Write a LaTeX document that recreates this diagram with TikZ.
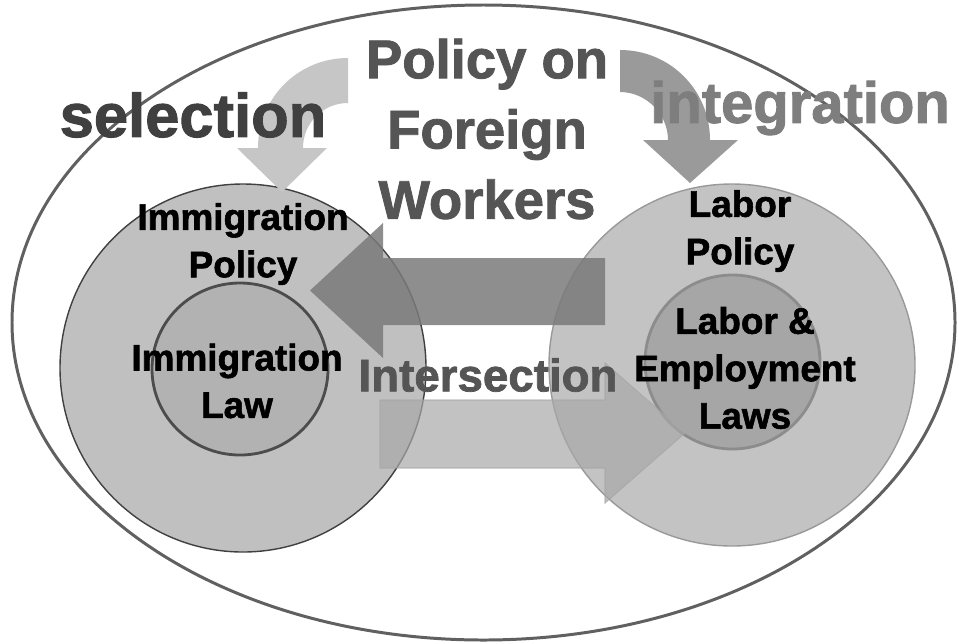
\documentclass[tikz,border=0pt]{standalone}
\usepackage{fontspec}
\newfontfamily\arialfont{Liberation Sans}[BoldFeatures={FakeBold=1.6}]
\usepackage{tikz}

\definecolor{framegray}{HTML}{606060}
\definecolor{fieldgray}{HTML}{C0C0C0}
\definecolor{lawgrayL}{HTML}{B2B2B2}
\definecolor{lawgrayR}{HTML}{A6A6A6}
\definecolor{flowdark}{HTML}{7A7A7A}
\definecolor{flowlight}{HTML}{A8A8A8}
\definecolor{bendlight}{HTML}{C6C6C6}
\definecolor{benddark}{HTML}{9A9A9A}
\definecolor{titledark}{HTML}{555555}
\definecolor{seldark}{HTML}{404040}
\definecolor{intgray}{HTML}{7E7E7E}

\tikzset{
  title/.style={align=center, inner sep=0pt},
  fieldlabel/.style={align=center, inner sep=0pt, text=black,
    font={\arialfont\bfseries\fontsize{21}{27}\selectfont}},
  bigfont/.style={font={\arialfont\bfseries\fontsize{#1}{40}\selectfont}}
}

\begin{document}
\begin{tikzpicture}[x=0.02cm, y=-0.02cm]
  \useasboundingbox (0,0) rectangle (959,643);

  % outer frame
  \draw[framegray, line width=1.7pt] (483.5,322.5) ellipse [x radius=471.5, y radius=317.5];

  % policy fields and laws
  \draw[fill=fieldgray, draw=black!75, line width=0.8pt] (243,368) ellipse [x radius=183, y radius=184];
  \draw[fill=fieldgray!95!white, draw=black!40, line width=0.8pt] (732,365) ellipse [x radius=183, y radius=181];
  \draw[fill=lawgrayL, draw=black!70, line width=1.6pt] (240,369) ellipse [x radius=88, y radius=86];
  \draw[fill=lawgrayR, draw=black!45, line width=1.6pt] (732.5,362) ellipse [x radius=87.5, y radius=87];

  % exchange arrows
  \fill[flowdark, opacity=0.85] (605,258) -- (383,258) -- (383,223) -- (310,290.5)
    -- (383,358) -- (383,325) -- (605,325) -- cycle;
  \filldraw[fill=flowlight, draw=black!35, line width=0.6pt, fill opacity=0.7, draw opacity=0.7]
    (380,400) -- (605,400) -- (605,363) -- (685,433) -- (605,503) -- (605,468) -- (380,468) -- cycle;

  % bent arrows from the top
  \fill[bendlight] (348,58) -- (348,103) .. controls (323,103) and (303,123) .. (303,148)
    -- (327,148) -- (282,192) -- (237,148) -- (258,148)
    .. controls (258,98) and (298,58) .. (348,58) -- cycle;
  \fill[benddark] (620,50) -- (620,92) .. controls (646,92) and (668,114) .. (668,140)
    -- (643,140) -- (690,183) -- (738,140) -- (710,140)
    .. controls (710,90) and (670,50) .. (620,50) -- cycle;

  % headings
  \node[title, bigfont=31, text=titledark] (policy) at (487,129) {Policy on\\Foreign\\Workers};
  \node[title, bigfont=35, text=seldark] (selection) at (193,115) {selection};
  \node[title, bigfont=33, text=intgray] (integration) at (800,108) {integration};
  \node[title, bigfont=26, text=titledark] (intersection) at (488,375) {Intersection};

  % field labels
  \node[fieldlabel] (immpolicy) at (243,244) {Immigration\\Policy};
  \node[fieldlabel] (immlaw) at (237,381) {Immigration\\Law};
  \node[fieldlabel] (labpolicy) at (740,231) {Labor\\Policy};
  \node[fieldlabel] (lablaw) at (745,368) {Labor \&\\Employment\\Laws};
\end{tikzpicture}
\end{document}
